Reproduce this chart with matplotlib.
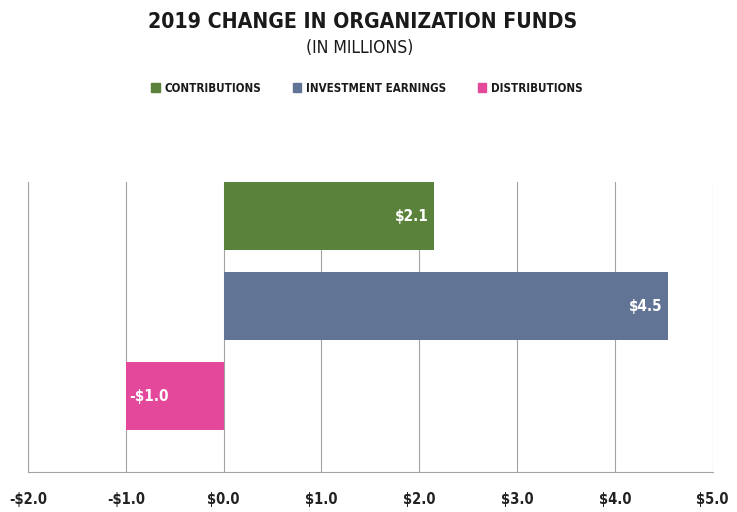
import matplotlib.pyplot as plt
from matplotlib.patches import Patch

plt.rcParams["font.family"] = ["DejaVu Sans"]
plt.rcParams["font.stretch"] = "condensed"

# ── data ─────────────────────────────────────────────
categories = ["CONTRIBUTIONS", "INVESTMENT EARNINGS", "DISTRIBUTIONS"]
values = [2.15, 4.54, -1.0]
labels = ["$2.1", "$4.5", "-$1.0"]
colors = ["#5B823A", "#627496", "#E3489A"]
ticks = [-2, -1, 0, 1, 2, 3, 4, 5]
tick_labels = ["-$2.0", "-$1.0", "$0.0", "$1.0", "$2.0", "$3.0", "$4.0", "$5.0"]

fig = plt.figure(figsize=(7.37, 5.12), dpi=100)
ax = fig.add_axes([0.038, 0.078, 0.929, 0.567])

ypos = list(range(len(values)))
bars = ax.barh(ypos, values, height=0.755, color=colors, zorder=3)

for y, v, lab in zip(ypos, values, labels):
    if v >= 0:
        ax.text(v - 0.05, y, lab, ha="right", va="center", color="white",
                fontsize=11, fontweight="bold", zorder=4)
    else:
        ax.text(v + 0.04, y, lab, ha="left", va="center", color="white",
                fontsize=11, fontweight="bold", zorder=4)

ax.set_xlim(-2, 5)
ax.set_ylim(2.84, -0.38)
ax.set_xticks(ticks)
ax.set_xticklabels(tick_labels, fontsize=10.5, fontweight="bold", color="#222222")
ax.set_yticks([])
ax.tick_params(axis="x", length=0, pad=14)
ax.grid(axis="x", color="#a3a3a3", linewidth=0.8, zorder=0)
for s in ["top", "right"]:
    ax.spines[s].set_visible(False)
for s in ["left", "bottom"]:
    ax.spines[s].set_color("#a3a3a3")
    ax.spines[s].set_linewidth(0.8)

fig.text(0.492, 0.957, "2019 CHANGE IN ORGANIZATION FUNDS", ha="center", va="center",
         fontsize=15.2, fontweight="heavy", color="#1a1a1a")
fig.text(0.488, 0.907, "(IN MILLIONS)", ha="center", va="center",
         fontsize=12.6, color="#1a1a1a")

handles = [Patch(color=c, label=n) for c, n in zip(colors, categories)]
leg = fig.legend(handles=handles, loc="center", bbox_to_anchor=(0.498, 0.828), ncol=3,
                 frameon=False, handlelength=0.72, handleheight=0.72, handletextpad=0.45,
                 columnspacing=2.7, prop={"size": 8.3, "weight": "bold", "stretch": "condensed"})
for t in leg.get_texts():
    t.set_color("#1a1a1a")

plt.savefig("out.png", dpi=100)
